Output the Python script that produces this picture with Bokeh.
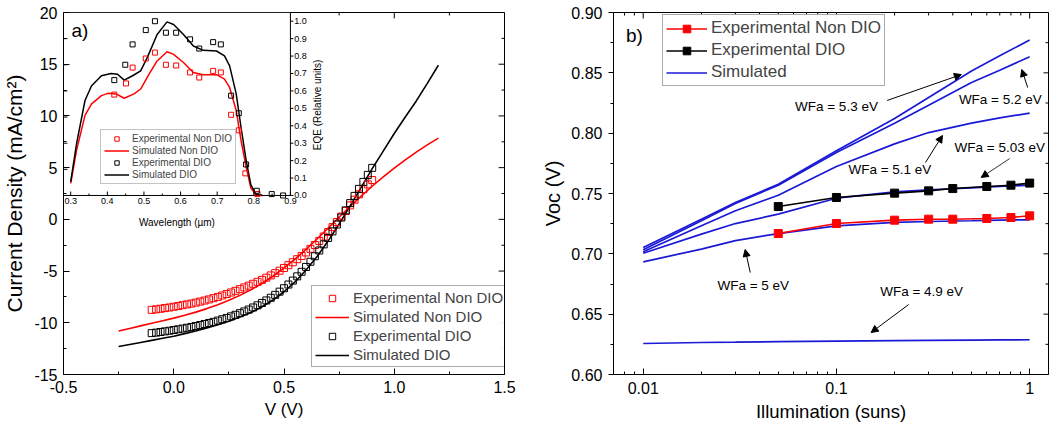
import math
from bokeh.plotting import figure
from bokeh.layouts import row
from bokeh.models import (Range1d, FixedTicker, Legend, LegendItem, Arrow, NormalHead, Label)
from bokeh.embed import file_html
from bokeh.resources import INLINE
from bokeh.core.properties import value

FONT = "Liberation Sans"
RED = "#FF0000"
BLACK = "#000000"
BLUE = "#1a1ad6"

# ---------------- Panel a : J-V data ----------------
v_exp_non = [-0.10, -0.08, -0.06, -0.04, -0.02, 0.00, 0.02, 0.04, 0.06, 0.08, 0.10, 0.12, 0.14, 0.16, 0.18,
             0.20, 0.22, 0.24, 0.26, 0.28, 0.30, 0.32, 0.34, 0.36, 0.38, 0.40, 0.42, 0.44, 0.46, 0.48,
             0.50, 0.52, 0.54, 0.56, 0.58, 0.60, 0.62, 0.64, 0.66, 0.68, 0.70, 0.72, 0.74, 0.76, 0.78,
             0.80, 0.82, 0.84, 0.86, 0.88, 0.90]
j_exp_non = [-8.75, -8.70, -8.64, -8.58, -8.52, -8.45, -8.38, -8.30, -8.22, -8.14, -8.05, -7.95, -7.85, -7.74, -7.62,
             -7.50, -7.36, -7.22, -7.07, -6.91, -6.75, -6.58, -6.41, -6.23, -6.04, -5.85, -5.64, -5.42, -5.20, -4.96,
             -4.70, -4.43, -4.15, -3.85, -3.54, -3.20, -2.85, -2.48, -2.09, -1.67, -1.22, -0.75, -0.26, 0.27, 0.80,
             1.35, 1.90, 2.42, 2.92, 3.38, 3.80]
v_exp_dio = [-0.10, -0.08, -0.06, -0.04, -0.02, 0.00, 0.02, 0.04, 0.06, 0.08, 0.10, 0.12, 0.14, 0.16, 0.18,
             0.20, 0.22, 0.24, 0.26, 0.28, 0.30, 0.32, 0.34, 0.36, 0.38, 0.40, 0.42, 0.44, 0.46, 0.48,
             0.50, 0.52, 0.54, 0.56, 0.58, 0.60, 0.62, 0.64, 0.66, 0.68, 0.70, 0.72, 0.74, 0.76, 0.78,
             0.80, 0.82, 0.84, 0.86, 0.88, 0.90]
j_exp_dio = [-11.00, -10.95, -10.89, -10.83, -10.77, -10.70, -10.63, -10.56, -10.48, -10.40, -10.31, -10.22, -10.12, -10.02, -9.91,
             -9.79, -9.66, -9.53, -9.38, -9.23, -9.07, -8.90, -8.72, -8.52, -8.31, -8.08, -7.84, -7.58, -7.30, -6.99,
             -6.66, -6.30, -5.92, -5.51, -5.07, -4.60, -4.10, -3.57, -3.01, -2.42, -1.80, -1.16, -0.50, 0.18, 0.87,
             1.57, 2.27, 2.95, 3.62, 4.30, 4.98]
v_sim = [-0.25, -0.20, -0.15, -0.10, -0.05, 0.00, 0.05, 0.10, 0.15, 0.20, 0.25, 0.30, 0.35, 0.40, 0.45,
         0.50, 0.55, 0.60, 0.65, 0.70, 0.75, 0.80, 0.85, 0.90, 0.95, 1.00, 1.05, 1.10, 1.15, 1.20]
j_sim_non = [-10.80, -10.55, -10.30, -10.05, -9.80, -9.55, -9.27, -8.97, -8.63, -8.25, -7.83, -7.35, -6.82, -6.20, -5.50,
             -4.70, -3.85, -2.90, -1.90, -0.85, 0.20, 1.25, 2.25, 3.20, 4.10, 4.95, 5.75, 6.50, 7.20, 7.85]
j_sim_dio = [-12.30, -12.10, -11.90, -11.70, -11.50, -11.30, -11.05, -10.80, -10.50, -10.20, -9.85, -9.45, -9.00, -8.45, -7.80,
             -7.00, -6.05, -4.90, -3.60, -2.10, -0.45, 1.30, 3.10, 4.90, 6.60, 8.30, 9.90, 11.45, 13.15, 14.90]

a_xticks = [-0.5, 0.0, 0.5, 1.0, 1.5]
a_xtick_labels = ["-0.5", "0.0", "0.5", "1.0", "1.5"]
a_xminor = [-0.25, 0.25, 0.75, 1.25]
a_yticks = [-15, -10, -5, 0, 5, 10, 15, 20]
a_ytick_labels = ["-15", "-10", "-5", "0", "5", "10", "15", "20"]
a_yminor = [-12.5, -7.5, -2.5, 2.5, 7.5, 12.5, 17.5]

# ---------------- Panel a inset : EQE data ----------------
wl_sim = [0.300, 0.316, 0.339, 0.357, 0.384, 0.401, 0.424, 0.446, 0.473, 0.491, 0.514, 0.536, 0.563,
          0.581, 0.608, 0.635, 0.662, 0.698, 0.720, 0.734, 0.752, 0.765, 0.779, 0.792, 0.806, 0.824]
eqe_sim_non = [0.070, 0.260, 0.460, 0.526, 0.573, 0.586, 0.583, 0.558, 0.583, 0.611, 0.696, 0.772, 0.825,
               0.810, 0.763, 0.706, 0.693, 0.693, 0.668, 0.620, 0.488, 0.317, 0.165, 0.042, 0.004, 0.000]
wl_sim_dio = [0.300, 0.316, 0.339, 0.357, 0.384, 0.410, 0.428, 0.446, 0.469, 0.491, 0.509, 0.536, 0.563,
              0.581, 0.608, 0.635, 0.662, 0.698, 0.720, 0.734, 0.752, 0.765, 0.779, 0.792, 0.806, 0.824]
eqe_sim_dio = [0.080, 0.298, 0.545, 0.630, 0.687, 0.700, 0.696, 0.662, 0.687, 0.715, 0.791, 0.924, 0.996,
               0.981, 0.924, 0.858, 0.833, 0.829, 0.801, 0.744, 0.583, 0.393, 0.203, 0.061, 0.008, 0.000]
wl_exp_non = [0.419, 0.451, 0.469, 0.505, 0.530, 0.560, 0.588, 0.626, 0.651, 0.689, 0.710, 0.738, 0.759, 0.777, 0.810]
eqe_exp_non = [0.579, 0.643, 0.734, 0.786, 0.820, 0.750, 0.746, 0.706, 0.677, 0.715, 0.706, 0.463, 0.374, 0.127, 0.008]
wl_exp_dio = [0.419, 0.449, 0.469, 0.505, 0.530, 0.560, 0.588, 0.626, 0.651, 0.689, 0.710, 0.738, 0.759, 0.779,
              0.808, 0.849, 0.880]
eqe_exp_dio = [0.662, 0.750, 0.867, 0.949, 1.000, 0.934, 0.934, 0.896, 0.843, 0.880, 0.867, 0.573, 0.472, 0.178,
               0.027, 0.008, 0.000]

inset_xticks = [0.3, 0.4, 0.5, 0.6, 0.7, 0.8, 0.9]
inset_xtick_labels = ["0.3", "0.4", "0.5", "0.6", "0.7", "0.8", "0.9"]
inset_xminor = [0.35, 0.45, 0.55, 0.65, 0.75, 0.85]
inset_yticks = [0.0, 0.1, 0.2, 0.3, 0.4, 0.5, 0.6, 0.7, 0.8, 0.9, 1.0]
inset_ytick_labels = ["0.0", "0.1", "0.2", "0.3", "0.4", "0.5", "0.6", "0.7", "0.8", "0.9", "1.0"]
inset_left_ticks = [0.15, 0.30, 0.45, 0.60, 0.75, 0.90]

# ---------------- Panel b : Voc vs illumination ----------------
illum_exp = [0.05, 0.1, 0.2, 0.3, 0.4, 0.6, 0.8, 1.0]
voc_exp_non = [0.7168, 0.7251, 0.7279, 0.7287, 0.7287, 0.7293, 0.7301, 0.7315]
voc_exp_dio = [0.7392, 0.7467, 0.7503, 0.7522, 0.7541, 0.7558, 0.7569, 0.7586]
illum_sim = [0.01, 0.02, 0.03, 0.05, 0.1, 0.2, 0.3, 0.5, 0.7, 1.0]
voc_wfa_53 = [0.7052, 0.7287, 0.7425, 0.7577, 0.7854, 0.8122, 0.8296, 0.8516, 0.8641, 0.8773]
voc_wfa_52 = [0.7033, 0.7274, 0.7417, 0.7569, 0.7840, 0.8083, 0.8232, 0.8420, 0.8522, 0.8633]
voc_wfa_51 = [0.7017, 0.7232, 0.7357, 0.7486, 0.7724, 0.7911, 0.8005, 0.8083, 0.8127, 0.8166]
voc_wfa_503 = [0.7005, 0.7163, 0.7251, 0.7329, 0.7461, 0.7514, 0.7531, 0.7547, 0.7558, 0.7569]
voc_wfa_50 = [0.6934, 0.7039, 0.7110, 0.7168, 0.7232, 0.7260, 0.7268, 0.7274, 0.7279, 0.7282]
voc_wfa_49 = [0.6257, 0.6265, 0.6268, 0.6272, 0.6277, 0.6280, 0.6282, 0.6285, 0.6287, 0.6288]

b_xticks = [0.01, 0.1, 1.0]
b_xtick_labels = ["0.01", "0.1", "1"]
b_xminor = [0.008, 0.009, 0.02, 0.03, 0.04, 0.05, 0.06, 0.07, 0.08, 0.09,
            0.2, 0.3, 0.4, 0.5, 0.6, 0.7, 0.8, 0.9]
b_yticks = [0.60, 0.65, 0.70, 0.75, 0.80, 0.85, 0.90]
b_ytick_labels = ["0.60", "0.65", "0.70", "0.75", "0.80", "0.85", "0.90"]
b_yminor = [0.625, 0.675, 0.725, 0.775, 0.825, 0.875]

# annotation texts: (label, text x, text y, arrow x0, y0, x1, y1)
wfa_notes = [
    ("WFa = 5.3 eV", 0.100, 0.8221, 0.183, 0.8271, 0.443, 0.8486),
    ("WFa = 5.2 eV", 0.705, 0.8279, 0.977, 0.8378, 0.910, 0.8528),
    ("WFa = 5.1 eV", 0.189, 0.7699, 0.289, 0.7757, 0.354, 0.7981),
    ("WFa = 5.03 eV", 0.700, 0.7881, 0.789, 0.7790, 0.561, 0.7633),
    ("WFa = 5 eV", 0.0371, 0.6738, 0.0358, 0.6845, 0.0337, 0.7036),
    ("WFa = 4.9 eV", 0.276, 0.6688, 0.2366, 0.6580, 0.1512, 0.6348),
]


def style_axis(ax, tin, tout, min_in, min_out, size, standoff):
    ax.major_tick_in = tin
    ax.major_tick_out = tout
    ax.minor_tick_in = min_in
    ax.minor_tick_out = min_out
    ax.axis_line_color = BLACK
    ax.axis_line_width = 1
    ax.major_tick_line_color = BLACK
    ax.minor_tick_line_color = BLACK
    ax.major_label_text_font = FONT
    ax.major_label_text_color = BLACK
    ax.major_label_text_font_size = size
    ax.major_label_standoff = standoff
    ax.axis_label_text_font = FONT
    ax.axis_label_text_font_style = "normal"
    ax.axis_label_text_color = BLACK


# ======================= Panel a =======================
AX0, AX1, AY0, AY1 = -0.5, 1.5, -15, 20
pa = figure(width=539, height=427, x_range=Range1d(AX0, AX1), y_range=Range1d(AY0, AY1),
            output_backend="svg", toolbar_location=None,
            min_border_left=57, min_border_right=35, min_border_top=10, min_border_bottom=52)
pa.grid.visible = False
pa.outline_line_color = BLACK
pa.border_fill_color = "white"
pa.background_fill_color = "white"

ax = pa.below[0]
ax.ticker = FixedTicker(ticks=a_xticks, minor_ticks=a_xminor)
ax.major_label_overrides = dict(zip(a_xticks, a_xtick_labels))
ax.axis_label = "V (V)"
style_axis(ax, 6, 0, 3, 0, "16px", 6)
ax.axis_label_text_font_size = "17px"
ax.axis_label_standoff = 4
ay = pa.left[0]
ay.ticker = FixedTicker(ticks=a_yticks, minor_ticks=a_yminor)
ay.major_label_overrides = dict(zip(a_yticks, a_ytick_labels))
ay.axis_label = "Current Density (mA/cm²)"
style_axis(ay, 6, 0, 3, 0, "16px", 6)
ay.axis_label_text_font_size = "21px"
ay.axis_label_standoff = 5

# mirrored ticks on top and right edges (inward)
pxa = (AX1 - AX0) / 447.0
pya = (AY1 - AY0) / 365.0
pa.segment(x0=a_xticks, y0=[AY1] * len(a_xticks), x1=a_xticks, y1=[AY1 - 6 * pya] * len(a_xticks),
           line_color=BLACK, line_width=1)
pa.segment(x0=a_xminor, y0=[AY1] * len(a_xminor), x1=a_xminor, y1=[AY1 - 3 * pya] * len(a_xminor),
           line_color=BLACK, line_width=1)
pa.segment(x0=[AX1] * len(a_yticks), y0=a_yticks, x1=[AX1 - 6 * pxa] * len(a_yticks), y1=a_yticks,
           line_color=BLACK, line_width=1)
pa.segment(x0=[AX1] * len(a_yminor), y0=a_yminor, x1=[AX1 - 3 * pxa] * len(a_yminor), y1=a_yminor,
           line_color=BLACK, line_width=1)

r_sim_non = pa.line(v_sim, j_sim_non, line_color=RED, line_width=1.6)
r_sim_dio = pa.line(v_sim, j_sim_dio, line_color=BLACK, line_width=1.6)
r_exp_non = pa.scatter(v_exp_non, j_exp_non, marker="square", size=7, line_color=RED,
                       fill_alpha=0, line_width=1)
r_exp_dio = pa.scatter(v_exp_dio, j_exp_dio, marker="square", size=7, line_color=BLACK,
                       fill_alpha=0, line_width=1)

leg_a = Legend(items=[
    LegendItem(label="Experimental Non DIO", renderers=[r_exp_non]),
    LegendItem(label="Simulated Non DIO", renderers=[r_sim_non]),
    LegendItem(label="Experimental DIO", renderers=[r_exp_dio]),
    LegendItem(label="Simulated DIO", renderers=[r_sim_dio]),
], location=(248, 7))
leg_a.label_text_font = FONT
leg_a.label_text_font_size = "15px"
leg_a.glyph_width = 34
leg_a.glyph_height = 16
leg_a.label_height = 16
leg_a.label_standoff = 4
leg_a.spacing = 2
leg_a.padding = 3
leg_a.margin = 0
leg_a.border_line_color = "#555555"
leg_a.border_line_width = 1
pa.add_layout(leg_a)

# ---- inset drawn on extra ranges mapped to the frame's upper-left part ----
kx = 0.6197 / 230.0            # wavelength per pixel
ky = 1.05 / 184.5              # EQE per pixel
wl0 = 0.2803
eqe_top = 1.05
pa.extra_x_ranges = {"wl": Range1d(wl0, wl0 + 447 * kx)}
pa.extra_y_ranges = {"eqe": Range1d(eqe_top - 365 * ky, eqe_top)}
wl1 = inset_xticks[-1]
R = dict(x_range_name="wl", y_range_name="eqe")

pa.quad(left=[wl0], right=[wl1], bottom=[0.0], top=[eqe_top], fill_color="white",
        line_color=BLACK, line_width=1, **R)
i_sim_non = pa.line(wl_sim, eqe_sim_non, line_color=RED, line_width=1.5, **R)
i_sim_dio = pa.line(wl_sim_dio, eqe_sim_dio, line_color=BLACK, line_width=1.5, **R)
i_exp_non = pa.scatter(wl_exp_non, eqe_exp_non, marker="square", size=5, line_color=RED,
                       fill_alpha=0, line_width=1, **R)
i_exp_dio = pa.scatter(wl_exp_dio, eqe_exp_dio, marker="square", size=5, line_color=BLACK,
                       fill_alpha=0, line_width=1, **R)

pa.segment(x0=inset_xticks, y0=[0.0] * len(inset_xticks), x1=inset_xticks,
           y1=[4 * ky] * len(inset_xticks), line_color=BLACK, line_width=1, **R)
pa.segment(x0=inset_xminor, y0=[0.0] * len(inset_xminor), x1=inset_xminor,
           y1=[2 * ky] * len(inset_xminor), line_color=BLACK, line_width=1, **R)
pa.segment(x0=[wl1] * len(inset_yticks), y0=inset_yticks, x1=[wl1 + 3 * kx] * len(inset_yticks),
           y1=inset_yticks, line_color=BLACK, line_width=1, **R)
pa.segment(x0=[wl0] * len(inset_left_ticks), y0=inset_left_ticks,
           x1=[wl0 + 4 * kx] * len(inset_left_ticks), y1=inset_left_ticks,
           line_color=BLACK, line_width=1, **R)
pa.text(x=inset_xticks, y=[-3 * ky] * len(inset_xticks), text=inset_xtick_labels,
        text_align="center", text_baseline="top", text_font=value(FONT),
        text_font_size=value("9px"), text_color=BLACK, **R)
pa.text(x=[wl1 + 4 * kx] * len(inset_yticks), y=inset_yticks, text=inset_ytick_labels,
        text_align="left", text_baseline="middle", text_font=value(FONT),
        text_font_size=value("9px"), text_color=BLACK, **R)
pa.text(x=[wl1 + 27 * kx], y=[0.52], text=["EQE (Relative units)"], angle=math.pi / 2,
        text_align="center", text_baseline="middle", text_font=value(FONT),
        text_font_size=value("10px"), text_color=BLACK, **R)
pa.text(x=[(wl0 + wl1) / 2], y=[-27.5 * ky], text=["Wavelength (µm)"],
        text_align="center", text_baseline="middle", text_font=value(FONT),
        text_font_size=value("10px"), text_color=BLACK, **R)

leg_i = Legend(items=[
    LegendItem(label="Experimental Non DIO", renderers=[i_exp_non]),
    LegendItem(label="Simulated Non DIO", renderers=[i_sim_non]),
    LegendItem(label="Experimental DIO", renderers=[i_exp_dio]),
    LegendItem(label="Simulated DIO", renderers=[i_sim_dio]),
], location=(37, 190))
leg_i.label_text_font = FONT
leg_i.label_text_font_size = "10px"
leg_i.glyph_width = 25
leg_i.glyph_height = 11
leg_i.label_height = 11
leg_i.label_standoff = 3
leg_i.spacing = 1
leg_i.padding = 3
leg_i.margin = 0
leg_i.border_line_color = "#888888"
leg_i.border_line_width = 1
pa.add_layout(leg_i)

pa.add_layout(Label(x=-0.464, y=18.3, text="a)", text_font=FONT, text_font_size="19px",
                    text_align="left", text_baseline="middle", text_color=BLACK))

# ======================= Panel b =======================
BX0, BX1, BY0, BY1 = 0.007018, 1.2516, 0.60, 0.90
pb = figure(width=512, height=427, x_axis_type="log", x_range=Range1d(BX0, BX1),
            y_range=Range1d(BY0, BY1), output_backend="svg", toolbar_location=None,
            min_border_left=70, min_border_right=3, min_border_top=12, min_border_bottom=53)
pb.grid.visible = False
pb.outline_line_color = BLACK
pb.border_fill_color = "white"
pb.background_fill_color = "white"

bx = pb.below[0]
bx.ticker = FixedTicker(ticks=b_xticks, minor_ticks=b_xminor)
bx.major_label_overrides = dict(zip(b_xticks, b_xtick_labels))
bx.axis_label = "Illumination (suns)"
style_axis(bx, 6, 0, 3, 0, "16px", 7)
bx.axis_label_text_font_size = "18.5px"
bx.axis_label_standoff = 4
by = pb.left[0]
by.ticker = FixedTicker(ticks=b_yticks, minor_ticks=b_yminor)
by.major_label_overrides = dict(zip(b_yticks, b_ytick_labels))
by.axis_label = "Voc (V)"
style_axis(by, 0, 5, 0, 3, "16px", 6)
by.axis_label_text_font_size = "20px"
by.axis_label_standoff = 4

# mirrored ticks on top and right edges (inward)
pyb = (BY1 - BY0) / 362.0
fxb = 10 ** (1.0 / 195.0)      # log-axis factor per pixel
pb.segment(x0=b_xticks, y0=[BY1] * len(b_xticks), x1=b_xticks, y1=[BY1 - 6 * pyb] * len(b_xticks),
           line_color=BLACK, line_width=1)
pb.segment(x0=b_xminor, y0=[BY1] * len(b_xminor), x1=b_xminor, y1=[BY1 - 3 * pyb] * len(b_xminor),
           line_color=BLACK, line_width=1)
pb.segment(x0=[BX1] * len(b_yticks), y0=b_yticks, x1=[BX1 / fxb ** 5] * len(b_yticks), y1=b_yticks,
           line_color=BLACK, line_width=1)
pb.segment(x0=[BX1] * len(b_yminor), y0=b_yminor, x1=[BX1 / fxb ** 3] * len(b_yminor), y1=b_yminor,
           line_color=BLACK, line_width=1)

sim_curves = [voc_wfa_53, voc_wfa_52, voc_wfa_51, voc_wfa_503, voc_wfa_50, voc_wfa_49]
sim_renderers = [pb.line(illum_sim, c, line_color=BLUE, line_width=1.7) for c in sim_curves]
l_non = pb.line(illum_exp, voc_exp_non, line_color=RED, line_width=1.6)
s_non = pb.scatter(illum_exp, voc_exp_non, marker="square", size=8, fill_color=RED, line_color=RED)
l_dio = pb.line(illum_exp, voc_exp_dio, line_color=BLACK, line_width=1.6)
s_dio = pb.scatter(illum_exp, voc_exp_dio, marker="square", size=8, fill_color=BLACK, line_color=BLACK)

leg_b = Legend(items=[
    LegendItem(label="Experimental Non DIO", renderers=[l_non, s_non]),
    LegendItem(label="Experimental DIO", renderers=[l_dio, s_dio]),
    LegendItem(label="Simulated", renderers=[sim_renderers[0]]),
], location=(49, 288))
leg_b.label_text_font = FONT
leg_b.label_text_font_size = "17px"
leg_b.glyph_width = 41
leg_b.glyph_height = 19
leg_b.label_height = 19
leg_b.label_standoff = 4
leg_b.spacing = 2
leg_b.padding = 3
leg_b.margin = 0
leg_b.border_line_color = "#555555"
leg_b.border_line_width = 1
pb.add_layout(leg_b)

for txt, tx, ty, x0, y0, x1, y1 in wfa_notes:
    pb.add_layout(Label(x=tx, y=ty, text=txt, text_font=FONT, text_font_size="13.5px",
                        text_align="center", text_baseline="middle", text_color=BLACK))
    lw = 0.8 if txt == "WFa = 5.03 eV" else 1.0
    pb.add_layout(Arrow(x_start=x0, y_start=y0, x_end=x1, y_end=y1, line_color=BLACK, line_width=lw,
                        end=NormalHead(size=7, fill_color=BLACK, line_color=BLACK, line_width=1)))

pb.add_layout(Label(x=0.009, y=0.8809, text="b)", text_font=FONT, text_font_size="19px",
                    text_align="center", text_baseline="middle", text_color=BLACK))

layout = row(pa, pb)
open("out.html", "w").write(file_html(layout, INLINE))
